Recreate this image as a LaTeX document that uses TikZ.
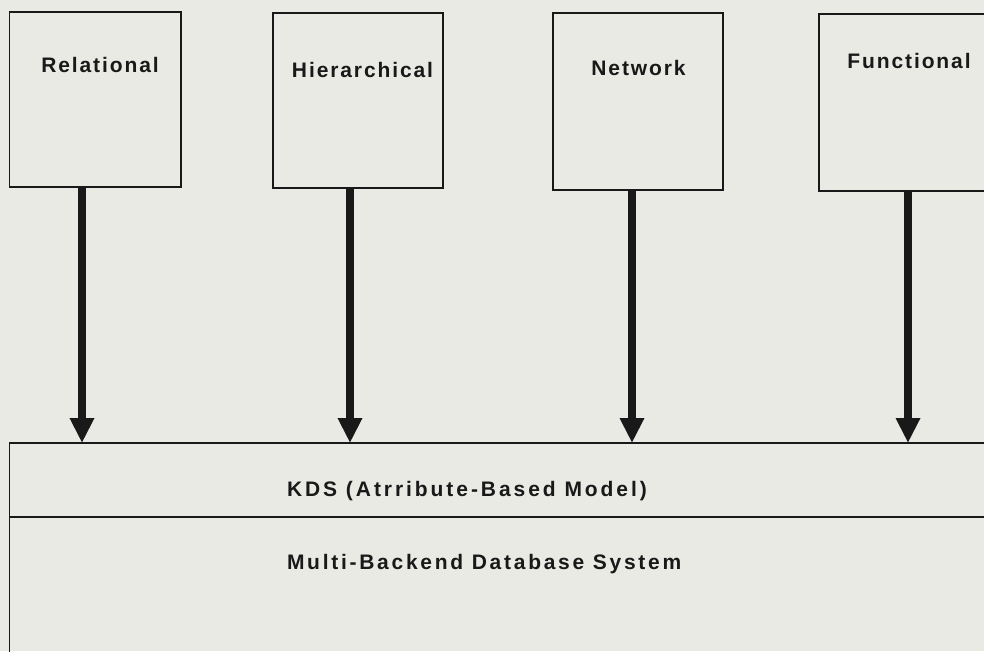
\documentclass[tikz,border=0pt]{standalone}
\usepackage{fontspec}
\setmainfont{Liberation Sans}
\newfontfamily\boxfont{Liberation Sans}[LetterSpace=9]
\newfontfamily\layerfont{Liberation Sans}[LetterSpace=14]
\newfontfamily\basefont{Liberation Sans}[LetterSpace=13]
\usetikzlibrary{arrows.meta}
\definecolor{paper}{RGB}{234,234,229}
\definecolor{ink}{RGB}{25,25,25}
\begin{document}
\begin{tikzpicture}[x=1pt,y=-1pt,
  every node/.style={inner sep=0pt, outer sep=0pt},
  modelbox/.style={draw=ink, line width=1.3pt, anchor=north west, rectangle},
  layer/.style={draw=ink, line width=1.3pt, anchor=north west, rectangle, minimum width=1000pt},
  boxlabel/.style={font=\boxfont\bfseries\fontsize{21}{22}\selectfont, text=ink, text height=15pt, text depth=0pt},
  layerlabel/.style={font=\layerfont\bfseries\fontsize{21}{22}\selectfont, text=ink, text height=15pt, text depth=0pt, anchor=west},
  flow/.style={draw=ink, line width=8pt, -{Triangle[width=23pt,length=25pt]}}]
\fill[paper] (0,0) rectangle (984,651);
\useasboundingbox (0,0) rectangle (984,651);
\clip (0,0) rectangle (984,651);

% data model boxes
\node[modelbox, minimum width=171.5pt, minimum height=175pt] (rel)  at (9.5,12) {};
\node[modelbox, minimum width=170pt,   minimum height=175pt] (hier) at (273,13) {};
\node[modelbox, minimum width=170pt,   minimum height=177pt] (net)  at (553,13) {};
\node[modelbox, minimum width=180pt,   minimum height=177pt] (func) at (819,14) {};

\node[boxlabel] (relt)  at (100,64.5)  {Relational};
\node[boxlabel] (hiert) at (362.5,70)  {Hierarchical};
\node[boxlabel] (nett)  at (638.5,67.5){Network};
\node[boxlabel] (funct) at (909,60.5)  {Functional};

% kernel layers
\node[layer, minimum height=74pt]  (kds)  at (9.5,443) {};
\node[layer, minimum height=160pt] (mbds) at (9.5,517) {};

\node[layerlabel] (kdst)  at (287,488.5) {KDS (Atrribute-Based Model)};
\node[layerlabel, font=\basefont\bfseries\fontsize{21}{22}\selectfont] (mbdst) at (287,561.5) {Multi-Backend Database System};

% entry points on the kernel
\coordinate (in1) at (82,443);
\coordinate (in2) at (350,443);
\coordinate (in3) at (632,443);
\coordinate (in4) at (908,443);

\draw[flow] (rel.south -| in1)  -- (in1);
\draw[flow] (hier.south -| in2) -- (in2);
\draw[flow] (net.south -| in3)  -- (in3);
\draw[flow] (func.south -| in4) -- (in4);
\end{tikzpicture}
\end{document}
